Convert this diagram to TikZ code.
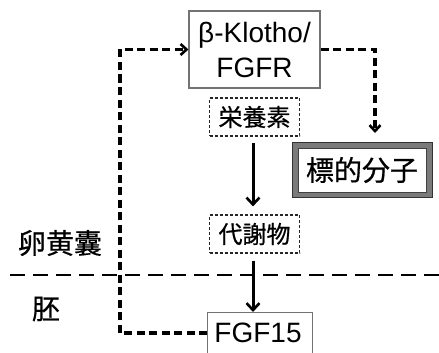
\documentclass[tikz,border=0pt]{standalone}
\usepackage{fontspec}
\setmainfont{Liberation Sans}
\newfontfamily\cjk[FakeBold=0.6]{Noto Sans CJK JP}
\usetikzlibrary{arrows.meta,calc}
\begin{document}
\begin{tikzpicture}[x=1pt,y=-1pt,
  solidbox/.style={draw=black!55,line width=1.1pt,fill=white,inner sep=0pt,align=center,font=\fontsize{28}{35}\selectfont},
  dbox/.style={draw=black!85,line width=1.1pt,dash pattern=on 3pt off 2pt,inner sep=0pt,minimum width=90pt,minimum height=38pt,font=\cjk\fontsize{24}{28}\selectfont},
  dashconn/.style={line width=3.3pt,dash pattern=on 8pt off 4.5pt,-{Straight Barb[length=6pt,width=11pt,line width=2.6pt]}},
  solidarrow/.style={line width=3pt,-{Straight Barb[length=7pt,width=13pt,line width=2.6pt]}},
  sep/.style={line width=1.8pt,dash pattern=on 15pt off 8pt},
  lbl/.style={font=\cjk\fontsize{28}{32}\selectfont,inner sep=0pt}]
\useasboundingbox (0,0) rectangle (439,353);
\fill[white] (0,0) rectangle (439,353);

\node[solidbox,minimum width=131pt,minimum height=77pt] (bk) at (254.5,49.5) {β-Klotho/\\FGFR};
\node[dbox] (nut) at (254.5,117) {栄養素};
\node[dbox] (met) at (254.5,234) {代謝物};
\node[draw=black!80,line width=1pt,fill=black!52,minimum width=140pt,minimum height=55pt,inner sep=0pt] (tgto) at (362,169.5) {};
\node[draw=black!75,line width=1pt,fill=white,minimum width=128pt,minimum height=44pt,inner sep=0pt,font=\cjk\fontsize{28}{32}\selectfont] (tgt) at (362,170) {標的分子};
\node[solidbox,minimum width=105pt,minimum height=48pt,anchor=north west,text depth=0pt] (fgf) at (207,312) {};
\node[inner sep=0pt,font=\fontsize{28}{32}\selectfont] (fgft) at (258,333) {FGF15};

\node[lbl] (yolk) at (60,243) {卵黄囊};
\node[lbl] (emb) at (46,309) {胚};

\draw[sep] (10,275) -- (439,275);

\coordinate (lc) at (120,333);
\coordinate (rt) at (375,133);
\draw[dashconn] (fgf.west |- lc) -- (lc) |- (bk.west);
\draw[dashconn] (bk.east) -| (rt);

\draw[solidarrow] ($(nut.south)+(-1.5,6)$) -- ($(met.north)+(-1.5,-8)$);
\draw[solidarrow] ($(met.south)+(-1.5,7)$) -- ($(fgf.north west)+(46,0)$);
\end{tikzpicture}
\end{document}
